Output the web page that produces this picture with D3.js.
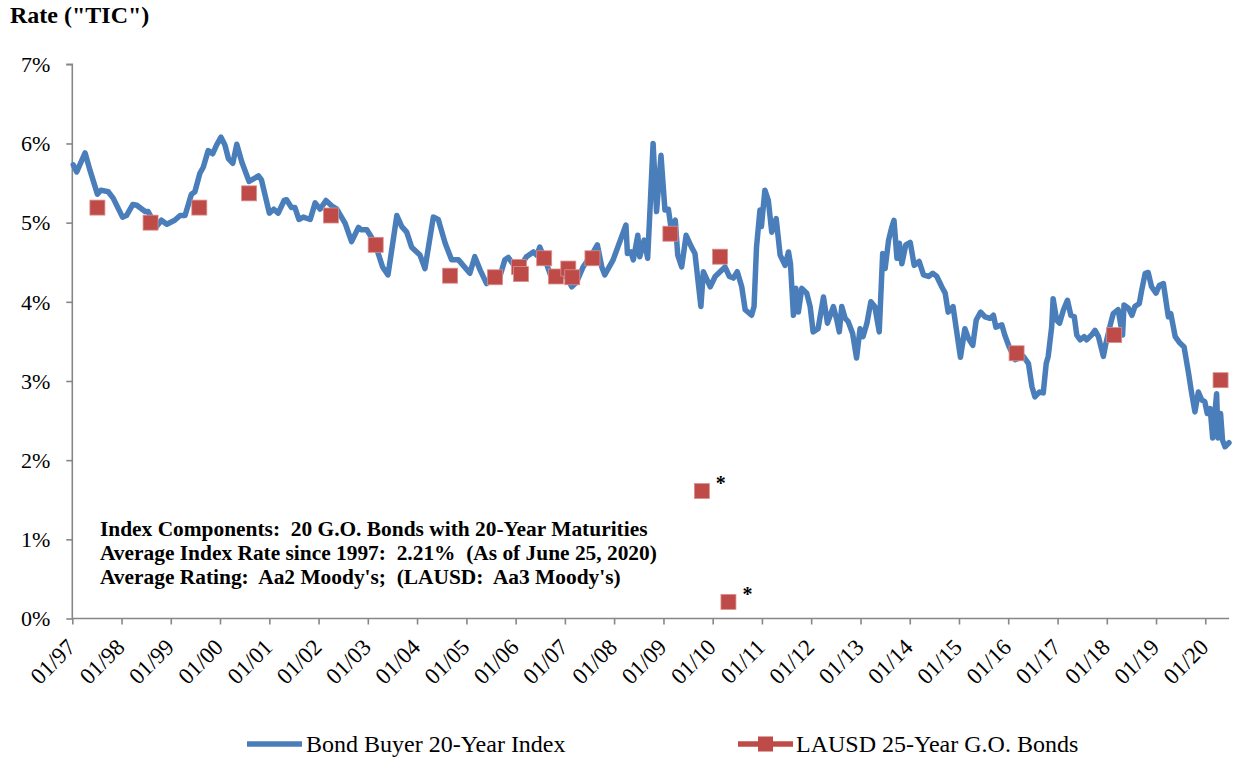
<!DOCTYPE html>
<html>
<head>
<meta charset="utf-8">
<script src="https://cdn.jsdelivr.net/npm/d3@7/dist/d3.min.js"></script>
<style>
  html, body { margin: 0; padding: 0; background: #fff; }
  svg { display: block; font-family: "Liberation Serif", "Times New Roman", serif; }
</style>
</head>
<body>
<svg id="chart" width="1233" height="758"></svg>
<script>
// ---- Data ----
// Bond Buyer 20-Year Index: dates as decimal years, rates in %
const indexDates = [
  1997.02,1997.09,1997.26,1997.36,1997.51,1997.58,1997.73,1997.83,1998.02,1998.10,
  1998.23,1998.31,1998.48,1998.54,1998.71,1998.81,1998.92,1999.08,1999.19,1999.29,
  1999.42,1999.49,1999.59,1999.66,1999.76,1999.85,1999.93,2000.02,2000.10,2000.17,
  2000.26,2000.34,2000.44,2000.59,2000.67,2000.78,2000.84,2001.00,2001.09,2001.18,
  2001.30,2001.35,2001.45,2001.52,2001.60,2001.69,2001.83,2001.93,2002.03,2002.15,
  2002.27,2002.37,2002.54,2002.67,2002.81,2002.87,2002.98,2003.08,2003.17,2003.30,
  2003.41,2003.59,2003.69,2003.79,2003.89,2004.06,2004.16,2004.33,2004.43,2004.57,
  2004.70,2004.84,2005.07,2005.17,2005.28,2005.41,2005.58,2005.68,2005.78,2005.85,
  2005.99,2006.09,2006.22,2006.36,2006.43,2006.49,2006.60,2006.73,2006.90,2007.04,
  2007.14,2007.24,2007.37,2007.58,2007.66,2007.75,2007.81,2007.98,2008.24,2008.27,
  2008.34,2008.39,2008.48,2008.52,2008.61,2008.68,2008.73,2008.79,2008.86,2008.95,
  2009.03,2009.10,2009.15,2009.24,2009.29,2009.37,2009.46,2009.57,2009.64,2009.76,
  2009.81,2009.95,2010.05,2010.15,2010.25,2010.34,2010.42,2010.50,2010.59,2010.66,
  2010.79,2010.84,2010.89,2010.96,2010.99,2011.06,2011.13,2011.20,2011.29,2011.37,
  2011.47,2011.54,2011.58,2011.64,2011.69,2011.74,2011.81,2011.91,2011.98,2012.04,
  2012.14,2012.25,2012.33,2012.45,2012.52,2012.57,2012.62,2012.69,2012.75,2012.84,
  2012.92,2012.99,2013.05,2013.13,2013.21,2013.29,2013.38,2013.45,2013.50,2013.57,
  2013.63,2013.68,2013.74,2013.79,2013.84,2013.92,2014.01,2014.09,2014.19,2014.28,
  2014.38,2014.47,2014.55,2014.65,2014.72,2014.78,2014.88,2014.95,2015.03,2015.12,
  2015.19,2015.28,2015.35,2015.44,2015.53,2015.63,2015.70,2015.75,2015.87,2015.93,
  2016.02,2016.14,2016.31,2016.41,2016.48,2016.54,2016.63,2016.71,2016.77,2016.81,
  2016.88,2016.91,2016.98,2017.04,2017.12,2017.20,2017.27,2017.34,2017.39,2017.46,
  2017.54,2017.59,2017.69,2017.76,2017.83,2017.93,2017.98,2018.08,2018.13,2018.23,
  2018.32,2018.35,2018.44,2018.51,2018.57,2018.66,2018.71,2018.78,2018.84,2018.91,
  2019.00,2019.07,2019.15,2019.20,2019.25,2019.30,2019.39,2019.47,2019.57,2019.66,
  2019.72,2019.79,2019.86,2019.93,2019.99,2020.04,2020.10,2020.15,2020.20,2020.23,
  2020.26,2020.31,2020.35,2020.40,2020.48
];
const indexRates = [
  5.73,5.64,5.88,5.66,5.36,5.41,5.39,5.31,5.07,5.09,
  5.23,5.22,5.14,5.14,4.95,5.03,4.98,5.03,5.09,5.09,
  5.36,5.39,5.62,5.70,5.91,5.87,5.98,6.08,5.98,5.81,
  5.75,5.99,5.77,5.52,5.55,5.59,5.54,5.12,5.17,5.12,
  5.28,5.29,5.19,5.19,5.04,5.07,5.04,5.25,5.17,5.28,
  5.21,5.17,4.99,4.76,4.94,4.91,4.91,4.81,4.69,4.44,
  4.34,5.09,4.95,4.88,4.69,4.59,4.42,5.07,5.04,4.74,
  4.53,4.53,4.36,4.57,4.40,4.23,4.36,4.32,4.53,4.56,
  4.44,4.44,4.57,4.63,4.59,4.69,4.53,4.30,4.32,4.32,
  4.19,4.25,4.44,4.63,4.72,4.44,4.34,4.53,4.97,4.61,
  4.63,4.53,4.84,4.57,4.78,4.55,5.20,6.00,5.14,5.85,
  5.16,5.17,4.95,5.03,4.59,4.44,4.84,4.69,4.61,3.94,
  4.38,4.19,4.32,4.38,4.44,4.32,4.30,4.38,4.19,3.90,
  3.83,3.94,4.69,5.16,4.95,5.41,5.28,4.88,5.05,4.59,
  4.46,4.63,4.48,3.83,4.17,3.87,4.17,4.11,3.94,3.62,
  3.66,4.06,3.73,3.94,3.77,3.62,3.94,3.79,3.75,3.60,
  3.29,3.66,3.56,3.73,4.00,3.94,3.62,4.61,4.42,4.78,
  4.93,5.03,4.55,4.74,4.48,4.72,4.75,4.46,4.51,4.34,
  4.32,4.36,4.32,4.19,4.11,3.87,3.94,3.64,3.30,3.66,
  3.54,3.45,3.77,3.87,3.81,3.79,3.83,3.68,3.71,3.58,
  3.43,3.27,3.31,3.22,2.93,2.80,2.86,2.85,3.22,3.31,
  3.68,4.04,3.77,3.73,3.90,4.02,3.83,3.81,3.58,3.52,
  3.56,3.52,3.58,3.64,3.56,3.31,3.47,3.73,3.85,3.90,
  3.58,3.96,3.92,3.83,3.94,3.98,4.15,4.36,4.37,4.19,
  4.11,4.21,4.23,4.02,3.81,3.85,3.56,3.49,3.43,3.10,
  2.86,2.61,2.86,2.76,2.74,2.59,2.65,2.28,2.63,2.84,
  2.28,2.59,2.25,2.17,2.22
];
// LAUSD 25-Year G.O. Bonds sales
const lausdDates = [
  1997.51,1998.59,1999.58,2000.59,2002.25,2003.16,2004.67,2005.58,2006.07,2006.11,
  2006.58,2006.82,2007.07,2007.15,2007.56,2009.14,2009.78,2010.15,2010.32,2016.17,
  2018.15,2020.31
];
const lausdRates = [
  5.19,5.00,5.19,5.37,5.09,4.72,4.33,4.31,4.44,4.35,
  4.55,4.32,4.42,4.31,4.55,4.86,1.61,4.57,0.21,3.35,
  3.58,3.01
];
const lausdFlags = [
  "","","","","","","","","","",
  "","","","","","","*","","*","",
  "",""
];
const yTicks = [0, 1, 2, 3, 4, 5, 6, 7];
const xTickYears = d3.range(1997, 2021);
const seriesNames = ["Bond Buyer 20-Year Index", "LAUSD 25-Year G.O. Bonds"];
const noteLines = [
  "Index Components:  20 G.O. Bonds with 20-Year Maturities",
  "Average Index Rate since 1997:  2.21%  (As of June 25, 2020)",
  "Average Rating:  Aa2 Moody's;  (LAUSD:  Aa3 Moody's)"
];
const yTitle = "Rate (\"TIC\")";

// ---- Helpers ----
function fracToDate(t) {
  const y = Math.floor(t);
  const s = new Date(y, 0, 1).getTime(), e = new Date(y + 1, 0, 1).getTime();
  return new Date(s + (t - y) * (e - s));
}
const fmtTick = d3.timeFormat("%m/%y");

const blue = "#4a7ebb", red = "#be4b48", axisCol = "#878787";
const svg = d3.select("#chart");

const x = d3.scaleTime()
  .domain([new Date(1997, 0, 1), new Date(2020, 5, 25)])
  .range([72.3, 1229]);
const y = d3.scaleLinear().domain([0, 7]).range([618.5, 64.3]);

// Y axis
const yAxis = svg.append("g").attr("transform", "translate(72.3,0)")
  .call(d3.axisLeft(y).tickValues(yTicks).tickSize(6).tickPadding(16)
        .tickFormat(d => d + "%"));
yAxis.selectAll("path, line").attr("stroke", axisCol).attr("stroke-width", 1.6);
yAxis.select(".domain").attr("d", `M-6,${y(7)}H0V${y(0)}`);
yAxis.selectAll("text").attr("font-size", 22).attr("fill", "#000")
  .attr("font-family", "Liberation Serif, serif").attr("dy", "0.33em");

// X axis
const xAxis = svg.append("g").attr("transform", `translate(0,${y(0)})`)
  .call(d3.axisBottom(x).tickValues(xTickYears.map(yy => new Date(yy, 0, 1)))
        .tickSize(6).tickFormat(fmtTick));
xAxis.selectAll("path, line").attr("stroke", axisCol).attr("stroke-width", 1.6);
xAxis.select(".domain").attr("d", `M${x.range()[0]},0H${x.range()[1]}`);
xAxis.selectAll("text")
  .attr("font-size", 23).attr("fill", "#000")
  .attr("font-family", "Liberation Serif, serif")
  .attr("text-anchor", "end")
  .attr("y", 0).attr("dy", 0)
  .attr("transform", "translate(4,30) rotate(-45)");

// Index line
const idx = indexDates.map((d, i) => ({ d: fracToDate(d), v: indexRates[i] }));
svg.append("path")
  .datum(idx)
  .attr("fill", "none")
  .attr("stroke", blue)
  .attr("stroke-width", 5.5)
  .attr("stroke-linejoin", "round")
  .attr("stroke-linecap", "round")
  .attr("d", d3.line().x(p => x(p.d)).y(p => y(p.v)));

// LAUSD squares
const sq = 15;
const la = lausdDates.map((d, i) => ({ d: fracToDate(d), v: lausdRates[i], f: lausdFlags[i] }));
svg.append("g").selectAll("rect").data(la).join("rect")
  .attr("x", p => x(p.d) - sq / 2)
  .attr("y", p => y(p.v) - sq / 2)
  .attr("width", sq).attr("height", sq)
  .attr("fill", red)
  .attr("stroke", "#d9908e").attr("stroke-width", 0.8);
svg.append("g").selectAll("text").data(la.filter(p => p.f)).join("text")
  .attr("x", p => x(p.d) + 19)
  .attr("y", p => y(p.v) - 1)
  .attr("text-anchor", "middle")
  .attr("font-size", 20).attr("font-weight", "bold")
  .text(p => p.f);

// Title
svg.append("text").attr("x", 10).attr("y", 23)
  .attr("font-size", 24).attr("font-weight", "bold").text(yTitle);

// Notes
svg.append("g").selectAll("text").data(noteLines).join("text")
  .attr("x", 100).attr("y", (d, i) => 536 + i * 24)
  .attr("font-size", 21.4).attr("font-weight", "bold")
  .style("white-space", "pre").attr("xml:space", "preserve")
  .text(d => d);

// Legend
const lg = svg.append("g");
lg.append("line").attr("x1", 247).attr("x2", 302).attr("y1", 744).attr("y2", 744)
  .attr("stroke", blue).attr("stroke-width", 5.5);
lg.append("text").attr("x", 306).attr("y", 752).attr("font-size", 24).text(seriesNames[0]);
lg.append("line").attr("x1", 738).attr("x2", 793).attr("y1", 744).attr("y2", 744)
  .attr("stroke", red).attr("stroke-width", 5.5);
lg.append("rect").attr("x", 765.5 - sq / 2).attr("y", 744 - sq / 2)
  .attr("width", sq).attr("height", sq).attr("fill", red);
lg.append("text").attr("x", 796).attr("y", 752).attr("font-size", 24).text(seriesNames[1]);
</script>
</body>
</html>
